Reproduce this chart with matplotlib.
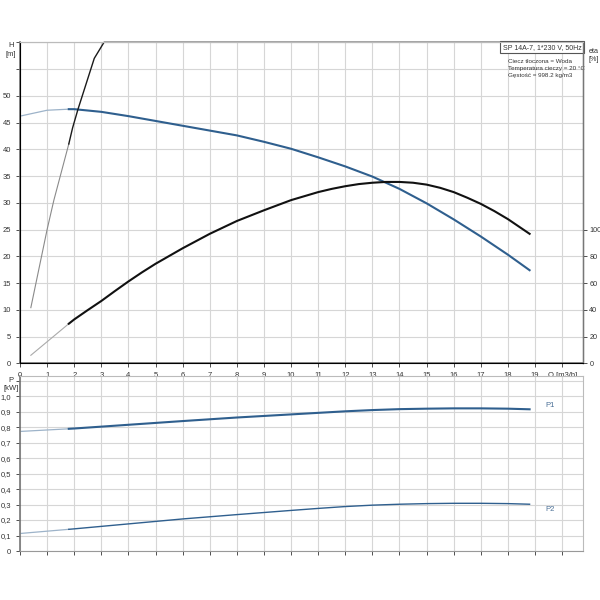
import numpy as np
import matplotlib
matplotlib.use('Agg')
import matplotlib.pyplot as plt
from matplotlib.transforms import blended_transform_factory

plt.rcParams['font.family'] = ['Liberation Sans', 'DejaVu Sans']

# Krzywa H (pompa) - czesc cienka i wlasciwa
q_h_thin = [0.0, 1.0, 1.8]
h_thin = [46.2, 47.3, 47.5]
q_h = [1.8, 2, 3, 4, 5, 6, 7, 8, 9, 10, 11, 12, 13, 14, 15, 16, 17, 18, 18.8]
h_vals = [47.5, 47.5, 47.0, 46.2, 45.3, 44.4, 43.5, 42.6, 41.4, 40.1, 38.5, 36.8,
          34.9, 32.6, 29.9, 26.9, 23.7, 20.3, 17.4]

# Sprawnosc eta [%]
q_eta_thin = [0.4, 1.8]
eta_thin = [6.0, 29.6]
q_eta = [1.8, 2, 2.5, 3, 3.5, 4, 4.5, 5, 6, 7, 8, 9, 10, 11, 11.5, 12, 12.5, 13,
         13.5, 14, 14.5, 15, 15.5, 16, 16.5, 17, 17.5, 18, 18.8]
eta_vals = [29.6, 32.8, 39.8, 46.6, 54.0, 61.2, 68.0, 74.4, 86.0, 96.8, 106.4, 114.4,
            122.0, 128.0, 130.4, 132.4, 134.0, 135.0, 135.6, 135.6, 135.0, 133.6,
            131.2, 128.0, 123.8, 119.2, 113.8, 107.8, 96.8]

# Stroma krzywa (czarna) wychodzaca poza skale
q_s_thin = [0.4, 1.0, 1.25, 1.8]
s_thin = [10.4, 25.0, 30.5, 41.0]
q_s = [1.8, 1.94, 2.14, 2.74, 3.1, 17.8]
s_vals = [41.0, 44.0, 47.5, 57.0, 60.0, 60.0]

# Moc P1 i P2 [kW]
q_p = [0, 1.8, 2, 4, 6, 8, 10, 11, 12, 13, 14, 15, 16, 17, 18, 18.8]
p1 = [0.772, 0.789, 0.791, 0.815, 0.839, 0.862, 0.882, 0.892, 0.902, 0.910, 0.916,
      0.919, 0.921, 0.921, 0.919, 0.915]
p2 = [0.113, 0.140, 0.143, 0.175, 0.207, 0.235, 0.262, 0.275, 0.287, 0.296, 0.302,
      0.306, 0.308, 0.308, 0.306, 0.302]

x_ticks = list(range(0, 21))
x_labels = [str(i) for i in range(0, 20)] + ['Q [m3/h]']
h_ticks = list(range(0, 61, 5))
h_labels = [str(v) for v in range(0, 55, 5)] + ['', '']
eta_ticks = [0, 20, 40, 60, 80, 100]
p_ticks = [round(0.1 * i, 1) for i in range(0, 12)]
p_labels = ['0'] + [('%.1f' % v).replace('.', ',') for v in p_ticks[1:11]] + ['']

info_title = 'SP 14A-7, 1*230 V, 50Hz'
info_lines = ['Ciecz tłoczona = Woda', 'Temperatura cieczy = 20 °C', 'Gęstość = 998.2 kg/m3']

blue = '#2f5f8e'
blue_light = '#9db3c9'
grid_c = '#d6d6d6'
txt_c = '#333333'
fs = 5.5

fig = plt.figure(figsize=(6, 6), dpi=100)
ax = fig.add_axes([20 / 600, 1 - 363.3 / 600, 563 / 600, 321 / 600])
ax2 = ax.twinx()
axp = fig.add_axes([20 / 600, 1 - 551 / 600, 563 / 600, 175 / 600])

xmax = 20.77

# --- gorny wykres ---
ax.set_xlim(0, xmax)
ax.set_ylim(0, 60)
ax.set_xticks(x_ticks)
ax.set_xticklabels(x_labels)
ax.set_yticks(h_ticks)
ax.set_yticklabels(h_labels)
ax.grid(True, color=grid_c, lw=0.8)
ax.set_axisbelow(True)

ax.plot(q_h_thin, h_thin, color=blue_light, lw=0.9)
ax.plot(q_h, h_vals, color=blue, lw=1.5, solid_joinstyle='round')
ax.plot(q_s_thin, s_thin, color='#8a8a8a', lw=0.8)
ax.plot(q_s, s_vals, color='#1a1a1a', lw=1.0, clip_on=False)

ax2.set_ylim(0, 240)
ax2.set_yticks(eta_ticks)
ax2.plot(q_eta_thin, eta_thin, color='#aaaaaa', lw=0.8)
ax2.plot(q_eta, eta_vals, color='#111111', lw=1.5, solid_joinstyle='round')

for a in (ax, ax2):
    a.tick_params(labelsize=fs, colors=txt_c, length=3, width=0.6)
    a.spines['top'].set_color('#bbbbbb')
ax2.tick_params(axis='y', pad=1.5, labelsize=5.2)
ax.spines['left'].set_color('#777777')
ax.spines['bottom'].set_color('#777777')
ax2.spines['right'].set_color('#777777')
ax.spines['left'].set_linewidth(1.2)
ax.spines['bottom'].set_linewidth(1.2)
ax2.spines['right'].set_linewidth(1.0)

trl = blended_transform_factory(ax.transAxes, ax.transData)
ax.text(-0.016, 60.0, 'H\n[m]', transform=trl, ha='center', va='top',
        fontsize=fs, color=txt_c, linespacing=1.4)
ax.text(1.01, 59.0, 'eta\n[%]', transform=trl, ha='left', va='top',
        fontsize=5.2, color=txt_c, linespacing=1.3)

ax.text(0.9975, 0.996, info_title, transform=ax.transAxes, ha='right', va='top',
        fontsize=5.0, color=txt_c, zorder=10,
        bbox=dict(boxstyle='square,pad=0.35', fc='white', ec='#555555', lw=0.8))
ax.text(0.867, 0.948, '\n'.join(info_lines), transform=ax.transAxes, ha='left',
        va='top', fontsize=4.5, color=txt_c, linespacing=1.5)

# --- dolny wykres ---
axp.set_xlim(0, xmax)
axp.set_ylim(0, 1.13)
axp.set_xticks(x_ticks)
axp.set_xticklabels([])
axp.set_yticks(p_ticks)
axp.set_yticklabels(p_labels)
axp.grid(True, color=grid_c, lw=0.8)
axp.set_axisbelow(True)
axp.tick_params(labelsize=fs, colors=txt_c, length=3, width=0.6)
for s in ['top', 'right']:
    axp.spines[s].set_color('#bbbbbb')
axp.spines['bottom'].set_color('#999999')
axp.spines['left'].set_color('#777777')
axp.spines['left'].set_linewidth(1.2)

axp.plot(q_p[:2], p1[:2], color=blue_light, lw=0.9)
axp.plot(q_p[1:], p1[1:], color=blue, lw=1.5, solid_joinstyle='round')
axp.plot(q_p[:2], p2[:2], color=blue_light, lw=0.9)
axp.plot(q_p[1:], p2[1:], color=blue, lw=1.0, solid_joinstyle='round')

axp.text(19.4, 0.94, 'P1', fontsize=fs, color='#4a6f96', va='center')
axp.text(19.4, 0.265, 'P2', fontsize=fs, color='#4a6f96', va='center')

trp = blended_transform_factory(axp.transAxes, axp.transData)
axp.text(-0.016, 1.125, 'P\n[kW]', transform=trp, ha='center', va='top',
         fontsize=fs, color=txt_c, linespacing=1.3)

fig.savefig('out.png', dpi=100)
